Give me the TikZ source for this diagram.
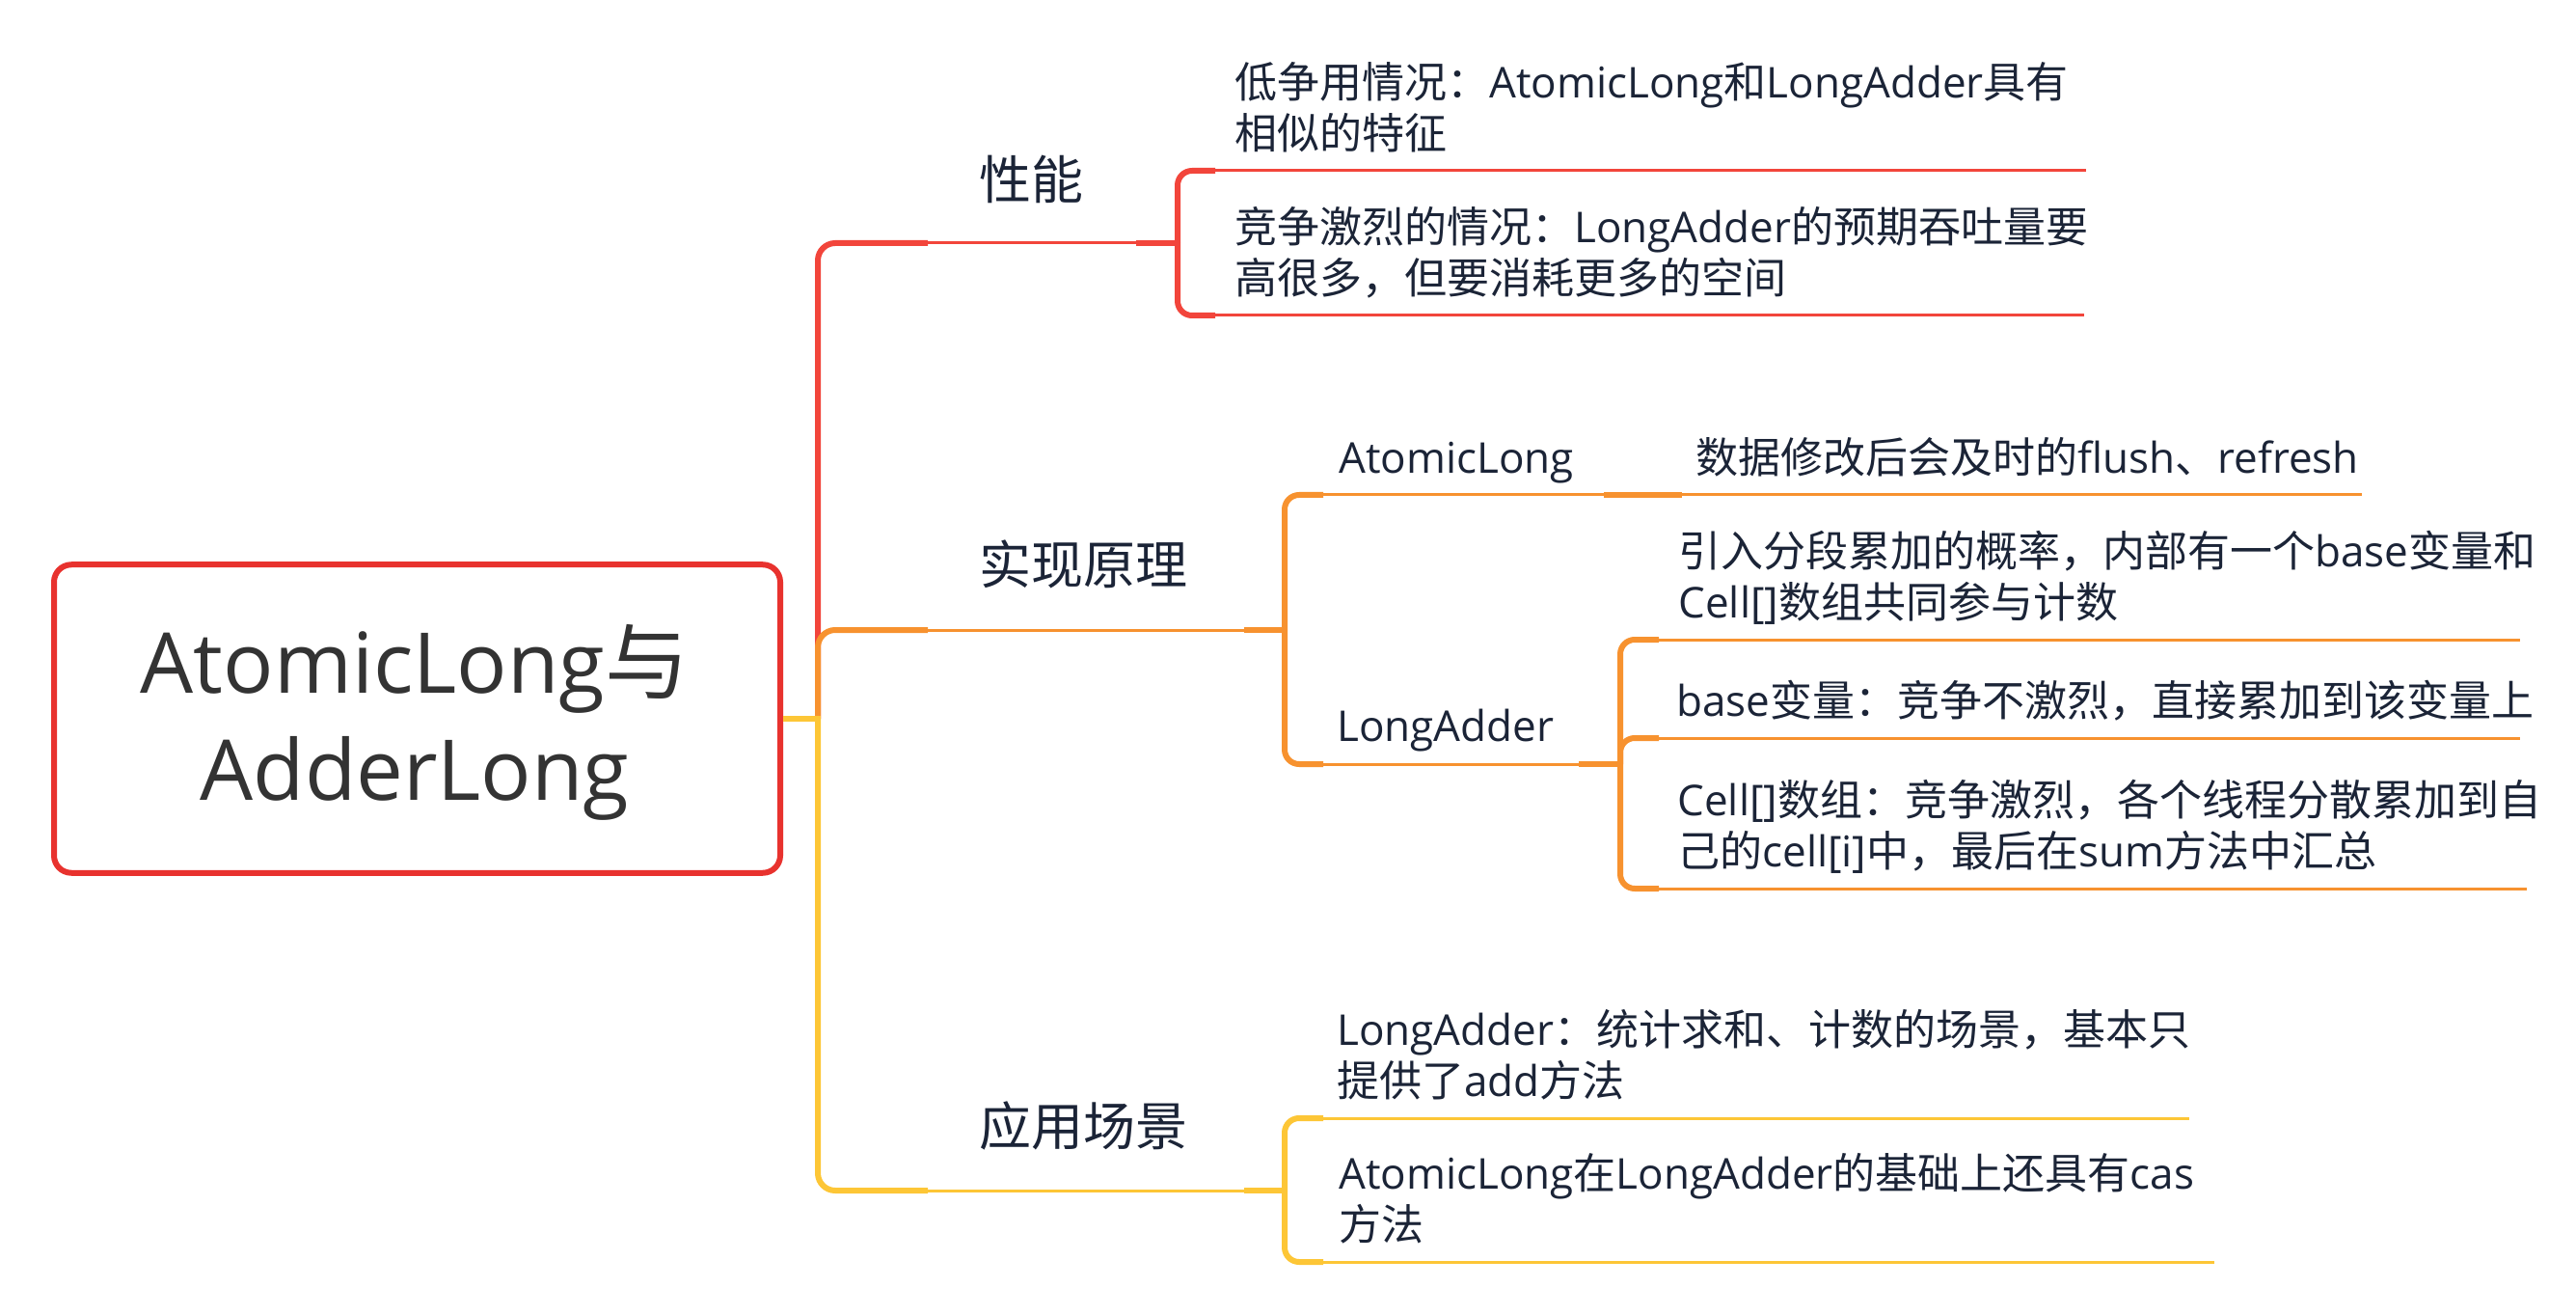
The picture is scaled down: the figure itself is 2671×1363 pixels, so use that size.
\documentclass[tikz,border=0pt]{standalone}
\usepackage{fontspec}
\setmainfont{Open Sans}
\newfontfamily\cjk{Noto Sans CJK SC}
\newcommand\zh[1]{{\cjk #1}}
\newcommand\fls{\rule{0pt}{24pt}}
\newcommand\flm{\rule{0pt}{30pt}}
\newcommand\flr{\rule{0pt}{45pt}}
\definecolor{cRoot}{HTML}{E8322E}
\definecolor{cRed}{HTML}{F2453B}
\definecolor{cOra}{HTML}{F7922F}
\definecolor{cYel}{HTML}{FDC636}
\definecolor{cTxt}{HTML}{1B2437}
\definecolor{cRootTxt}{HTML}{333333}
\begin{document}
\begin{tikzpicture}[x=0.5pt,y=-0.5pt,
  thinln/.style={line width=1.5pt},
  thickln/.style={line width=3pt, rounded corners=7.5pt},
  trunkln/.style={line width=3pt, rounded corners=9pt},
  subtxt/.style={anchor=north west, inner sep=0pt, align=left, text=cTxt,
    font=\fontsize{22pt}{26.5pt}\selectfont},
  maintxt/.style={anchor=north west, inner sep=0pt, text=cTxt,
    font=\fontsize{27pt}{32pt}\selectfont},
  roottxt/.style={anchor=north, inner sep=0pt, align=center, text=cRootTxt,
    font=\fontsize{43.5pt}{55.5pt}\selectfont},
  rootbox/.style={draw=cRoot, line width=3pt, rounded corners=9pt, inner sep=0pt,
    minimum width=376.5pt, minimum height=159.75pt}
]
\useasboundingbox (0,0) rectangle (2671,1363);

% ---------- root ----------
\node[rootbox] (root) at (432.5,745) {};
\node[roottxt] (rootlbl) at (430,628) {\flr AtomicLong\zh{与}\\AdderLong};
\coordinate (J) at (848,745);

% ---------- coordinates ----------
\coordinate (Bperf) at (1221,252);
\coordinate (Bimpl) at (1332,653);
\coordinate (Bla)   at (1680,792);
\coordinate (Bapp)  at (1332,1234);

% ---------- red branch: performance ----------
\draw[trunkln,cRed] (J) -- (848,252) -- (962,252);
\draw[thinln,cRed] (962,252) -- (Bperf);
\draw[line width=3pt,cRed] (1178,252) -- (Bperf);
\draw[thickln,cRed] (Bperf) -- (1221,177) -- (1260,177);
\draw[thinln,cRed] (1260,177) -- (2163,177);
\draw[thickln,cRed] (Bperf) -- (1221,327) -- (1260,327);
\draw[thinln,cRed] (1260,327) -- (2161,327);

% ---------- orange branch: implementation ----------
\draw[trunkln,cOra] (J) -- (848,653) -- (962,653);
\draw[thinln,cOra] (962,653) -- (Bimpl);
\draw[line width=3pt,cOra] (1290,653) -- (Bimpl);
\draw[thickln,cOra] (Bimpl) -- (1332,513) -- (1372,513);
\draw[thinln,cOra] (1372,513) -- (2449,513);
\draw[line width=3pt,cOra] (1663,513) -- (1744,513);
\draw[thickln,cOra] (Bimpl) -- (1332,792) -- (1372,792);
\draw[thinln,cOra] (1372,792) -- (Bla);
\draw[line width=3pt,cOra] (1637,792) -- (Bla);
\draw[thickln,cOra] (Bla) -- (1680,663) -- (1720,663);
\draw[thinln,cOra] (1720,663) -- (2613,663);
\draw[thickln,cOra] (Bla) -- (1680,765) -- (1720,765);
\draw[thinln,cOra] (1720,765) -- (2613,765);
\draw[thickln,cOra] (Bla) -- (1680,921) -- (1720,921);
\draw[thinln,cOra] (1720,921) -- (2620,921);

% ---------- yellow branch: usage ----------
\draw[trunkln,cYel] (J) -- (848,1234) -- (962,1234);
\draw[thinln,cYel] (962,1234) -- (Bapp);
\draw[line width=3pt,cYel] (1290,1234) -- (Bapp);
\draw[thickln,cYel] (Bapp) -- (1332,1159) -- (1372,1159);
\draw[thinln,cYel] (1372,1159) -- (2270,1159);
\draw[thickln,cYel] (Bapp) -- (1332,1308) -- (1372,1308);
\draw[thinln,cYel] (1372,1308) -- (2296,1308);
\draw[line width=3pt,cYel] (root.east) -- ([xshift=1.5pt]J);

% ---------- texts ----------
\node[maintxt] (perf) at (1015,146) {\flm\zh{性能}};
\node[maintxt] (impl) at (1015,545) {\flm\zh{实现原理}};
\node[maintxt] (app)  at (1015,1127) {\flm\zh{应用场景}};

\node[subtxt] (p1) at (1280,53) {\fls\zh{低争用情况：}AtomicLong\zh{和}LongAdder\zh{具有}\\\zh{相似的特征}};
\node[subtxt] (p2) at (1280,203) {\fls\zh{竞争激烈的情况：}LongAdder\zh{的预期吞吐量要}\\\zh{高很多，但要消耗更多的空间}};

\node[subtxt] (al)  at (1388,442) {\fls AtomicLong};
\node[subtxt] (al1) at (1758,442) {\fls\zh{数据修改后会及时的}flush\zh{、}refresh};
\node[subtxt] (la)  at (1386,720) {\fls LongAdder};
\node[subtxt] (la1) at (1740,539) {\fls\zh{引入分段累加的概率，内部有一个}base\zh{变量和}\\Cell[]\zh{数组共同参与计数}};
\node[subtxt] (la2) at (1738,694) {\fls base\zh{变量：竞争不激烈，直接累加到该变量上}};
\node[subtxt] (la3) at (1739,797) {\fls Cell[]\zh{数组：竞争激烈，各个线程分散累加到自}\\\zh{己的}cell[i]\zh{中，最后在}sum\zh{方法中汇总}};

\node[subtxt] (u1) at (1386,1035) {\fls LongAdder\zh{：统计求和、计数的场景，基本只}\\\zh{提供了}add\zh{方法}};
\node[subtxt] (u2) at (1388,1184) {\fls AtomicLong\zh{在}LongAdder\zh{的基础上还具有}cas\\\zh{方法}};
\end{tikzpicture}
\end{document}
